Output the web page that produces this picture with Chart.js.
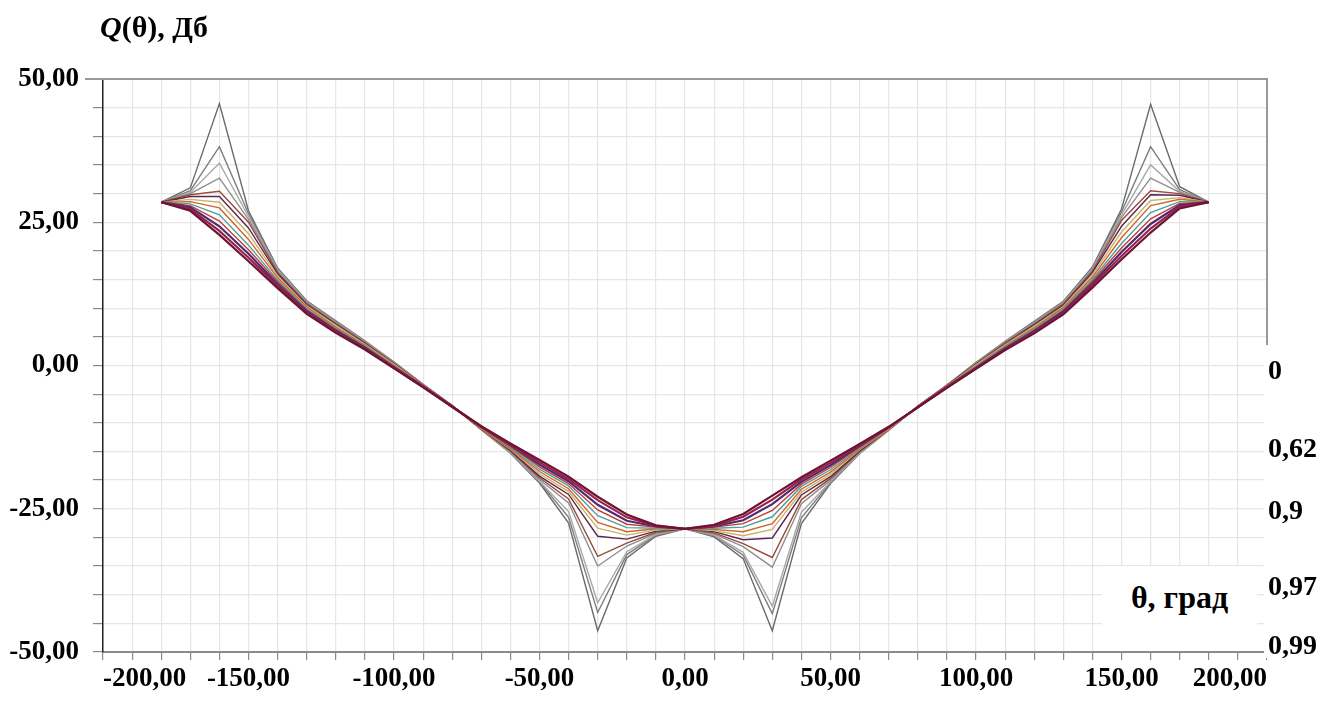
<!DOCTYPE html>
<html>
<head>
<meta charset="utf-8">
<script src="https://cdn.jsdelivr.net/npm/chart.js@4"></script>
<style>
  body { margin: 0; background: #fff; }
  #wrap { position: relative; width: 1332px; height: 705px; overflow: hidden; }
  .lbl { position: absolute; font-family: 'Liberation Serif', 'Times New Roman', serif; font-weight: bold; font-size: 28px; line-height: 28px; color: #000; white-space: nowrap; }
  #title { left: 100px; top: 12px; font-size: 30px; line-height: 30px; }
  #rightCover { position: absolute; left: 1264px; top: 345px; width: 68px; height: 313px; background: #fff; }
  #thetaBox { position: absolute; left: 1102px; top: 566px; width: 155px; height: 85px; background: #fff; }
  #thetaText { left: 0; width: 155px; top: 15px; text-align: center; font-size: 32px; line-height: 32px; }
</style>
</head>
<body>
<div id="wrap">
  <canvas id="chart" width="1332" height="705"></canvas>
  <div class="lbl" id="title"><i>Q</i>(θ), Дб</div>
  <div id="rightCover"></div>
  <div class="lbl" style="left:1268px; top:356px;">0</div>
  <div class="lbl" style="left:1268px; top:434px;">0,62</div>
  <div class="lbl" style="left:1268px; top:496px;">0,9</div>
  <div class="lbl" style="left:1268px; top:572px;">0,97</div>
  <div class="lbl" style="left:1268px; top:631px;">0,99</div>
  <div id="thetaBox"><div class="lbl" id="thetaText">θ, град</div></div>
</div>
<script>
// angle, degrees
const theta = [-180, -170, -160, -150, -140, -130, -120, -110, -100, -90, -80, -70, -60, -50, -40, -30, -20, -10,
  0, 10, 20, 30, 40, 50, 60, 70, 80, 90, 100, 110, 120, 130, 140, 150, 160, 170, 180];

const xTicks = [-200, -150, -100, -50, 0, 50, 100, 150, 200];
const yTicks = [-50, -25, 0, 25, 50];

// Q(theta), dB, one array per curve
const q000 = [28.5, 27.0, 22.8, 18.2, 13.5, 9.0, 5.7, 2.8, -0.5, -3.8, -7.2, -10.6, -13.6, -16.5, -19.4, -22.9, -26.0, -27.9,
  -28.5, -27.8, -25.9, -22.7, -19.5, -16.6, -13.7, -10.7, -7.3, -3.9, -0.6, 2.7, 5.6, 8.9, 13.6, 18.5, 23.2, 27.4, 28.5];
const q030 = [28.5, 27.3, 23.5, 18.8, 13.9, 9.2, 5.9, 2.9, -0.4, -3.7, -7.2, -10.7, -13.8, -16.9, -19.8, -23.5, -26.5, -28.0,
  -28.5, -28.0, -26.4, -23.4, -19.9, -17.0, -13.9, -10.8, -7.3, -3.8, -0.5, 2.8, 5.8, 9.1, 14.0, 19.1, 23.9, 27.7, 28.5];
const q050 = [28.5, 27.6, 24.3, 19.5, 14.2, 9.5, 6.1, 3.1, -0.3, -3.7, -7.2, -10.7, -13.9, -17.3, -20.2, -24.3, -27.1, -28.1,
  -28.5, -28.1, -27.0, -24.2, -20.3, -17.4, -14.0, -10.8, -7.3, -3.8, -0.4, 3.0, 6.0, 9.4, 14.3, 19.8, 24.7, 28.0, 28.5];
const q062 = [28.5, 27.9, 25.2, 20.2, 14.6, 9.7, 6.3, 3.2, -0.2, -3.6, -7.1, -10.8, -14.1, -17.7, -20.6, -25.2, -27.7, -28.2,
  -28.5, -28.2, -27.6, -25.3, -20.7, -17.8, -14.2, -10.9, -7.2, -3.7, -0.3, 3.1, 6.2, 9.6, 14.7, 20.5, 25.6, 28.3, 28.5];
const q075 = [28.5, 28.2, 26.3, 21.0, 14.9, 9.9, 6.5, 3.4, -0.1, -3.6, -7.1, -10.8, -14.3, -18.1, -21.0, -26.2, -28.3, -28.4,
  -28.5, -28.4, -28.2, -26.4, -21.1, -18.2, -14.4, -10.9, -7.2, -3.7, -0.2, 3.3, 6.4, 9.8, 15.0, 21.3, 26.7, 28.6, 28.5];
const q082 = [28.5, 28.6, 27.5, 22.0, 15.3, 10.2, 6.7, 3.5, 0.0, -3.5, -7.1, -10.9, -14.5, -18.5, -21.5, -27.4, -29.0, -28.5,
  -28.5, -28.6, -29.0, -27.6, -21.6, -18.6, -14.6, -11.0, -7.2, -3.6, -0.1, 3.4, 6.6, 10.1, 15.4, 22.3, 27.9, 29.0, 28.5];
const q087 = [28.5, 29.0, 28.5, 23.0, 15.6, 10.4, 7.0, 3.7, 0.2, -3.5, -7.1, -11.0, -14.6, -18.9, -22.0, -28.4, -29.6, -28.7,
  -28.5, -28.8, -29.7, -28.6, -22.1, -19.0, -14.7, -11.1, -7.2, -3.6, 0.1, 3.6, 6.9, 10.3, 15.8, 23.3, 28.8, 29.3, 28.5];
const q090 = [28.5, 29.5, 29.5, 24.0, 16.0, 10.6, 7.2, 3.8, 0.3, -3.4, -7.1, -11.0, -14.8, -19.3, -22.5, -29.8, -30.3, -28.9,
  -28.5, -29.0, -30.4, -30.1, -22.6, -19.4, -14.9, -11.1, -7.2, -3.5, 0.2, 3.7, 7.1, 10.5, 16.2, 24.3, 29.8, 29.7, 28.5];
const q093 = [28.5, 29.8, 30.4, 25.0, 16.2, 10.8, 7.3, 4.0, 0.4, -3.4, -7.0, -11.1, -14.9, -19.6, -23.3, -33.3, -31.0, -29.1,
  -28.5, -29.2, -31.1, -33.5, -23.4, -19.7, -15.0, -11.2, -7.1, -3.5, 0.3, 3.9, 7.2, 10.7, 16.4, 25.3, 30.5, 30.0, 28.5];
const q095 = [28.5, 30.0, 32.7, 25.5, 16.5, 11.0, 7.5, 4.1, 0.4, -3.4, -7.0, -11.1, -15.0, -19.9, -24.0, -35.0, -31.5, -29.3,
  -28.5, -29.4, -31.6, -35.2, -24.1, -20.0, -15.1, -11.2, -7.1, -3.5, 0.3, 4.0, 7.4, 10.9, 16.7, 25.8, 32.7, 30.2, 28.5];
const q097 = [28.5, 30.2, 35.3, 26.0, 16.7, 11.1, 7.6, 4.2, 0.5, -3.3, -7.0, -11.2, -15.2, -20.2, -25.5, -41.4, -32.5, -29.5,
  -28.5, -29.6, -32.6, -42.0, -25.6, -20.3, -15.3, -11.3, -7.1, -3.4, 0.4, 4.1, 7.5, 11.0, 16.9, 26.3, 35.0, 30.4, 28.5];
const q098 = [28.5, 30.5, 38.2, 26.5, 16.9, 11.2, 7.7, 4.2, 0.6, -3.3, -7.0, -11.2, -15.2, -20.3, -26.5, -43.1, -33.0, -29.6,
  -28.5, -29.7, -33.1, -43.3, -26.6, -20.4, -15.3, -11.3, -7.1, -3.4, 0.5, 4.1, 7.6, 11.1, 17.1, 26.8, 38.2, 30.7, 28.5];
const q099 = [28.5, 31.0, 45.7, 27.0, 17.0, 11.3, 7.8, 4.3, 0.6, -3.3, -7.0, -11.2, -15.3, -20.5, -27.5, -46.3, -33.6, -29.8,
  -28.5, -29.9, -33.7, -46.3, -27.6, -20.6, -15.4, -11.3, -7.1, -3.4, 0.5, 4.2, 7.7, 11.2, 17.2, 27.3, 45.6, 31.2, 28.5];

const seriesNames = ['0', '0,3', '0,5', '0,62', '0,75', '0,82', '0,87', '0,9', '0,93', '0,95', '0,97', '0,98', '0,99'];
const seriesValues = [q000, q030, q050, q062, q075, q082, q087, q090, q093, q095, q097, q098, q099];
const seriesColors = ['#6d1432', '#9c1f4b', '#4e2a72', '#c23b2e', '#4f9ea3', '#d0652a', '#c9b46b',
  '#5a2750', '#9a4b3c', '#8e8e8e', '#a9a9a9', '#7d7d7d', '#6a6a6a'];

const fmt = v => v.toFixed(2).replace('.', ',');
const tickFont = { family: "'Liberation Serif', 'Times New Roman', serif", size: 27, weight: 'bold' };

// top and right frame lines
const framePlugin = {
  id: 'frame',
  afterDraw(chart) {
    const { ctx, chartArea } = chart;
    ctx.save();
    ctx.strokeStyle = '#999';
    ctx.lineWidth = 2;
    ctx.beginPath();
    ctx.moveTo(chartArea.left - 18, chartArea.top);
    ctx.lineTo(chartArea.right, chartArea.top);
    ctx.lineTo(chartArea.right, chartArea.bottom);
    ctx.stroke();
    ctx.restore();
  }
};

new Chart(document.getElementById('chart'), {
  type: 'line',
  data: {
    datasets: seriesValues.map((vals, i) => ({
      label: seriesNames[i],
      data: vals.map((y, j) => ({ x: theta[j], y })),
      borderColor: seriesColors[i],
      borderWidth: i < 3 ? 2.2 : 1.4,
      pointRadius: 0,
      tension: 0,
      fill: false,
    })),
  },
  options: {
    responsive: false,
    animation: false,
    layout: { padding: { top: 79, right: 65, left: 0, bottom: 0 } },
    plugins: { legend: { display: false }, tooltip: { enabled: false } },
    scales: {
      x: {
        type: 'linear',
        min: -200,
        max: 200,
        afterFit: s => { s.height = 53; },
        ticks: {
          stepSize: 10,
          autoSkip: false,
          maxRotation: 0,
          align: 'inner',
          padding: 3,
          color: '#000',
          font: tickFont,
          callback: v => (xTicks.includes(v) ? fmt(v) : ''),
        },
        grid: { color: '#e6e6e6', lineWidth: 1.2, tickLength: 8, tickColor: '#8a8a8a' },
        border: { color: '#8a8a8a', width: 2 },
      },
      y: {
        min: -50,
        max: 50,
        afterFit: s => { s.width = 103; },
        ticks: {
          stepSize: 5,
          autoSkip: false,
          padding: 14,
          color: '#000',
          font: tickFont,
          callback: v => (yTicks.includes(v) ? fmt(v) : ''),
        },
        grid: { color: '#e6e6e6', lineWidth: 1.2, tickLength: 10, tickColor: '#8a8a8a' },
        border: { color: '#222', width: 1.5 },
      },
    },
  },
  plugins: [framePlugin],
});
</script>
</body>
</html>
